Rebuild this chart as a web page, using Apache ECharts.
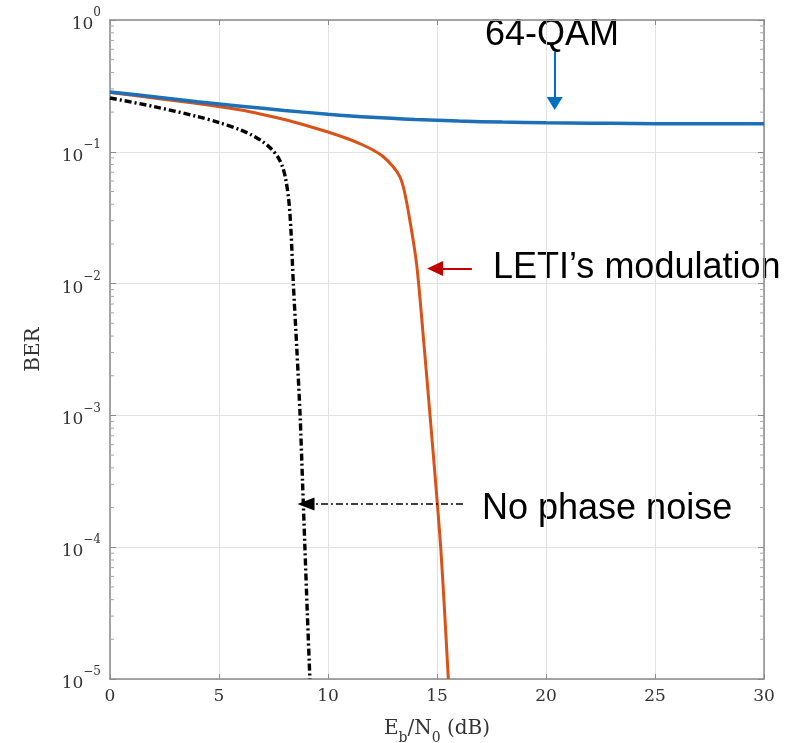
<!DOCTYPE html>
<html><head><meta charset="utf-8">
<script src="https://cdn.jsdelivr.net/npm/echarts@6/dist/echarts.min.js"></script>
<style>html,body{margin:0;padding:0;background:#fff}#c{width:799px;height:743px}</style>
</head><body><div id="c"></div>
<script>
// ---- data ----
const blueX = [0, 2, 4, 6, 8, 10, 12, 14, 16, 18, 20, 22, 24, 26, 28, 30];
const blueY = [0.284, 0.262, 0.240, 0.222, 0.206, 0.193, 0.183, 0.176, 0.171, 0.168, 0.166, 0.165, 0.164, 0.163, 0.163, 0.163];

const orangeX = [0, 2, 4, 6, 7, 8, 9, 10, 11, 11.6, 12.1, 12.5, 13, 13.3, 13.5, 13.76, 14.07, 14.4, 14.68, 14.93, 15.17, 15.35, 15.52];
const orangeY = [0.2818, 0.2559, 0.2325, 0.2075, 0.1919, 0.1758, 0.1583, 0.1413, 0.124, 0.1126, 0.1023, 0.0929, 0.0767, 0.0644, 0.0504, 0.0299, 0.0138, 0.0035, 0.001, 3.2e-4, 1e-4, 3.2e-5, 1e-5];

const blackX = [0, 2, 4, 5, 6, 6.5, 7, 7.4, 7.7, 7.9, 8.05, 8.2, 8.3, 8.41, 8.57, 8.72, 8.83, 8.94, 9.05, 9.17];
const blackY = [0.2559, 0.2207, 0.1853, 0.1668, 0.1463, 0.1341, 0.1197, 0.105, 0.0913, 0.078, 0.0633, 0.0431, 0.0255, 0.01, 3.2e-3, 1e-3, 3.2e-4, 1e-4, 3.2e-5, 1e-5];

const xTicks = [0, 5, 10, 15, 20, 25, 30];
const yMin = 1e-5, yMax = 1;
const minorMantissas = [2, 3, 4, 5, 6, 7, 8, 9];
const decades = [-5, -4, -3, -2, -1];

const annoLabels = ['64-QAM', 'LETI\u2019s modulation', 'No phase noise'];
// arrows: [fromX, fromY, toX, toY] in data units
const arrowBlue = [20.4, 0.5706, 20.4, 0.2325];
const arrowRed = [16.6, 0.0130, 14.91, 0.0130];
const arrowBlack = [16.19, 2.13e-4, 8.99, 2.13e-4];

// ---- build ----
const pairs = (xs, ys) => xs.map((x, i) => [x, ys[i]]);
const minorVals = [];
decades.forEach(d => minorMantissas.forEach(m => minorVals.push(m * Math.pow(10, d))));

const serif = '"DejaVu Serif", "Liberation Serif", serif';
const sans = '"Liberation Sans", Arial, sans-serif';
const axisGray = '#8a8a8a';

function yLabel(v) {
  const e = Math.round(Math.log10(v));
  const s = e < 0 ? '\u2212' + (-e) : String(e);
  return '{b|10}{s|' + s + '}';
}

const chart = echarts.init(document.getElementById('c'), null, {renderer: 'canvas'});

function arrowLine(a, color, type, width, size) {
  return [
    {coord: [a[0], a[1]], lineStyle: {color: color, type: type, width: width}, itemStyle: {color: color}},
    {coord: [a[2], a[3]], symbolSize: size}
  ];
}

const option = {
  animation: false,
  backgroundColor: '#fff',
  grid: {left: 110, right: 35, top: 20, bottom: 64, containLabel: false, outerBoundsMode: 'none'},
  xAxis: [{
    type: 'value', min: 0, max: 30, interval: 5, position: 'bottom',
    axisLine: {show: true, onZero: false, lineStyle: {color: axisGray, width: 1.5}},
    axisTick: {show: true, inside: true, length: 5, lineStyle: {color: axisGray}},
    splitLine: {show: true, lineStyle: {color: '#e2e2e2', width: 1}},
    axisLabel: {fontFamily: serif, fontSize: 17, color: '#333', margin: 9,
      formatter: v => xTicks.indexOf(v) >= 0 ? String(v) : ''},
    name: '{n|E}{sub|b}{n|/N}{sub|0}{n| (dB)}',
    nameLocation: 'middle', nameGap: 40,
    nameTextStyle: {rich: {
      n: {fontFamily: serif, fontSize: 20, color: '#333', lineHeight: 26, verticalAlign: 'top'},
      sub: {fontFamily: serif, fontSize: 14, color: '#333', lineHeight: 14, verticalAlign: 'bottom'}
    }}
  }, {
    type: 'value', min: 0, max: 30, interval: 5, position: 'top',
    axisLine: {show: true, onZero: false, lineStyle: {color: axisGray, width: 1.5}},
    axisTick: {show: true, inside: true, length: 5, lineStyle: {color: axisGray}},
    splitLine: {show: false}, axisLabel: {show: false}
  }],
  yAxis: [{
    type: 'log', logBase: 10, min: yMin, max: yMax, splitNumber: 5, position: 'left',
    axisLine: {show: true, onZero: false, lineStyle: {color: axisGray, width: 1.5}},
    axisTick: {show: true, inside: true, length: 6, lineStyle: {color: axisGray}},
    splitLine: {show: true, lineStyle: {color: '#e2e2e2', width: 1}},
    axisLabel: {margin: 9, formatter: yLabel, rich: {
      b: {fontFamily: serif, fontSize: 17, color: '#333', lineHeight: 18, verticalAlign: 'bottom'},
      s: {fontFamily: serif, fontSize: 12, color: '#333', lineHeight: 26, verticalAlign: 'top'}
    }},
    name: 'BER', nameLocation: 'middle', nameGap: 66,
    nameTextStyle: {fontFamily: serif, fontSize: 20, color: '#333'}
  }, {
    type: 'log', logBase: 10, min: yMin, max: yMax, splitNumber: 5, position: 'right',
    axisLine: {show: true, onZero: false, lineStyle: {color: axisGray, width: 1.5}},
    axisTick: {show: true, inside: true, length: 6, lineStyle: {color: axisGray}},
    splitLine: {show: false}, axisLabel: {show: false}
  }],
  series: [
    {
      type: 'custom', silent: true, z: 1,
      data: minorVals.map(v => [0, v]),
      renderItem: function (params, api) {
        const cs = params.coordSys;
        const p = api.coord([0, api.value(1)]);
        const st = {stroke: '#a8a8a8', lineWidth: 1};
        return {type: 'group', children: [
          {type: 'line', shape: {x1: cs.x, y1: p[1], x2: cs.x + 4, y2: p[1]}, style: st},
          {type: 'line', shape: {x1: cs.x + cs.width - 4, y1: p[1], x2: cs.x + cs.width, y2: p[1]}, style: st}
        ]};
      }
    },
    {
      name: 'No phase noise', type: 'line', showSymbol: false, smooth: 0.3,
      data: pairs(blackX, blackY), z: 3,
      lineStyle: {color: '#000', width: 3.4, type: [7, 3, 2, 3]}
    },
    {
      name: 'LETI', type: 'line', showSymbol: false, smooth: 0.3,
      data: pairs(orangeX, orangeY), z: 4,
      lineStyle: {color: '#d95319', width: 3}
    },
    {
      name: '64-QAM', type: 'line', showSymbol: false, smooth: 0.35,
      data: pairs(blueX, blueY), z: 5,
      lineStyle: {color: '#1d6fb6', width: 3.5},
      markLine: {
        silent: true, animation: false,
        symbol: ['none', 'triangle'],
        label: {show: false},
        emphasis: {disabled: true},
        data: [
          arrowLine(arrowBlue, '#0070c0', 'solid', 2, [16, 13]),
          arrowLine(arrowRed, '#c00000', 'solid', 2, [15, 16]),
          arrowLine(arrowBlack, '#000000', [7, 3, 2, 3], 1.5, [13, 17])
        ]
      }
    }
  ],
  graphic: [
    {type: 'text', left: 485, top: 17, style: {text: annoLabels[0], font: '36px ' + sans, fill: '#000'}},
    {type: 'text', left: 493, top: 250, style: {text: annoLabels[1], font: '36px ' + sans, fill: '#000'}},
    {type: 'text', left: 482, top: 491, style: {text: annoLabels[2], font: '36px ' + sans, fill: '#000'}}
  ]
};
chart.setOption(option);
</script>
</body></html>
